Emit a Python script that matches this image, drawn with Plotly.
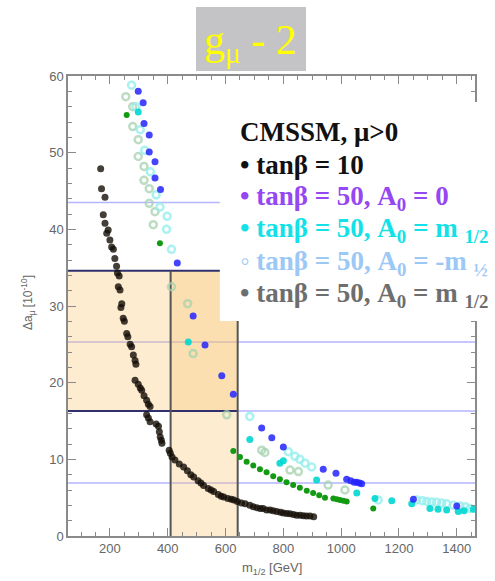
import plotly.graph_objects as go

# ---------------- data ----------------
tb10_x = [168,171,183,177,183,189,194,200,206,212,217,223,226,232,229,235,241,238,246,250,258,262,270,275,281,287,290,287,298,305,310,318,327,333,339,327,333,339,360,368,371,374,378,380,405,409,415,425,440,455,468,480,490,505,515,524,540,550,559,575,585,594,608,620,629,641,655,668,684,696,708,720,730,742,754,765,777,790,800,812,823,835,846,858,869,880,892,905]
tb10_y = [47.9,45.3,44.2,41.9,40.8,39.5,39.9,38.6,37.7,37.4,36.2,35.2,34.3,33.9,32.5,32.1,30.3,29.8,28.4,28.0,26.4,26.0,25.0,24.7,23.6,22.9,22.4,20.3,19.8,19.3,19.0,18.3,17.7,17.2,16.9,15.8,15.4,14.9,14.6,14.3,13.6,12.9,12.5,12.1,11.2,10.8,10.3,9.9,9.4,9.0,8.5,8.0,7.7,7.2,6.9,6.6,6.2,6.0,5.8,5.4,5.2,5.1,4.9,4.8,4.7,4.5,4.3,4.2,4.0,3.8,3.7,3.6,3.6,3.4,3.4,3.3,3.2,3.1,3.0,2.95,2.9,2.8,2.7,2.7,2.65,2.6,2.6,2.5]

a00_x = [298,315,318,336,336,356,356,375,433,488,529,587,627,725,760,800,938,982,1019,1033,1045,1054,1063,1071,1250,1400]
a00_y = [58.0,56.5,53.8,52.3,50.1,48.8,46.7,45.2,35.6,28.7,24.9,20.9,18.5,14.1,12.8,11.6,8.7,8.2,7.4,7.2,7.0,7.0,6.9,6.8,4.8,3.9]

am_x = [298,471,684,788,800,915,1054,1117,1175,1244,1307,1335,1365,1405,1425,1457]
am_y = [55.3,25.3,12.6,9.5,9.8,7.3,5.6,4.9,4.6,4.2,3.6,3.5,3.4,3.2,3.3,3.5]

aneg_x = [275,290,305,320,340,360,373,398,396,413,684,817,840,857,875,898,1128,1261,1280,1296,1313,1330,1348,1365,1388,1411,1430,1446]
aneg_y = [58.8,56.0,53.0,50.3,47.5,44.5,42.9,41.7,40.0,37.4,15.6,11.0,10.4,10.0,9.5,9.0,4.7,4.7,4.6,4.5,4.45,4.4,4.3,4.2,4.0,3.9,3.8,3.6]

grn_x = [258,373,627,650,673,696,719,742,765,788,811,834,857,881,903,924,944,973,985,996,1008,1019,1111]
grn_y = [54.9,38.2,11.1,10.3,9.7,9.2,8.7,8.3,7.8,7.4,7.0,6.65,6.3,5.9,5.6,5.3,5.0,4.9,4.8,4.7,4.6,4.5,3.6]

pg_x = [255,279,279,298,298,318,318,336,336,356,350,413,469,488,604,725,736,823,852,955,1013]
pg_y = [57.3,56.0,53.4,51.7,49.5,48.2,46.4,45.3,43.4,42.3,40.6,32.5,30.3,23.8,15.8,11.2,10.9,8.6,8.4,6.65,6.0]

x_ticks = [200, 400, 600, 800, 1000, 1200, 1400]
y_ticks = [0, 10, 20, 30, 40, 50, 60]

# bands / limits
band_y = [16.3, 34.6]
band_x = [410, 642]
light_lines = [43.5, 25.3, 16.3, 6.9]
XMIN, XMAX = 55, 1463

legend_lines = [
    ("CMSSM, μ>0", "#111111"),
    ("• tanβ = 10", "#111111"),
    ("• tanβ = 50, A<sub>0</sub> = 0", "#9447f2"),
    ("• tanβ = 50, A<sub>0</sub> = m <sub>1/2</sub>", "#12e2e8"),
    ("◦ tanβ = 50, A<sub>0</sub> = -m <sub>½</sub>", "#9cc8f6"),
    ("• tanβ = 50, A<sub>0</sub> = m <sub>1/2</sub>", "#6e6e6e"),
]

fig = go.Figure()

fig.add_trace(go.Scatter(x=pg_x, y=pg_y, mode="markers",
    marker=dict(symbol="circle-open", size=7, line=dict(width=2.5), color="rgba(165,210,175,0.75)")))
fig.add_trace(go.Scatter(x=aneg_x, y=aneg_y, mode="markers",
    marker=dict(symbol="circle-open", size=7, line=dict(width=2.5), color="rgba(150,238,238,0.8)")))
fig.add_trace(go.Scatter(x=grn_x, y=grn_y, mode="markers",
    marker=dict(size=6, color="#139a13")))
fig.add_trace(go.Scatter(x=am_x, y=am_y, mode="markers",
    marker=dict(size=7, color="rgba(0,215,210,0.9)")))
fig.add_trace(go.Scatter(x=a00_x, y=a00_y, mode="markers",
    marker=dict(size=7, color="rgba(35,35,255,0.85)")))
fig.add_trace(go.Scatter(x=tb10_x, y=tb10_y, mode="markers",
    marker=dict(size=7, color="rgba(20,14,6,0.8)")))

shapes = []
orange = "rgba(250,195,110,0.32)"
shapes.append(dict(type="rect", xref="x", yref="y", x0=XMIN, x1=band_x[1], y0=band_y[0], y1=band_y[1],
                   fillcolor=orange, line=dict(width=0), layer="below"))
shapes.append(dict(type="rect", xref="x", yref="y", x0=band_x[0], x1=band_x[1], y0=0, y1=band_y[1],
                   fillcolor=orange, line=dict(width=0), layer="below"))
for yv in light_lines:
    shapes.append(dict(type="line", xref="paper", yref="y", x0=0, x1=1, y0=yv, y1=yv,
                       line=dict(color="rgba(150,150,255,0.7)", width=1.5), layer="below"))
for yv in band_y:
    shapes.append(dict(type="line", xref="x", yref="y", x0=XMIN, x1=band_x[1], y0=yv, y1=yv,
                       line=dict(color="#30306e", width=2), layer="below"))
for xv in band_x:
    shapes.append(dict(type="line", xref="x", yref="y", x0=xv, x1=xv, y0=0, y1=band_y[1],
                       line=dict(color="#555555", width=2), layer="below"))
# legend panel
shapes.append(dict(type="rect", xref="paper", yref="paper", x0=0.373, x1=1.06, y0=0.4674, y1=0.9435,
                   fillcolor="white", line=dict(width=0), layer="above"))
# title box
shapes.append(dict(type="rect", xref="paper", yref="paper", x0=0.3145, x1=0.5848, y0=1.0109, y1=1.15,
                   fillcolor="#c4c3c6", line=dict(width=0), layer="above"))

annotations = []
annotations.append(dict(xref="paper", yref="paper", x=0.4496, y=1.072, xanchor="center", yanchor="middle",
                        text="g<sub>μ</sub> - 2", showarrow=False,
                        font=dict(family="Liberation Serif", size=42, color="#ffff00")))
legend_y_px = [132, 165, 198, 230, 263, 295]
for (txt, col), py in zip(legend_lines, legend_y_px):
    annotations.append(dict(xref="paper", yref="paper", x=(238 - 68) / 407, y=(536 - py) / 460,
                            xanchor="left", yanchor="middle", text="<b>" + txt + "</b>", showarrow=False,
                            font=dict(family="Liberation Serif", size=27, color=col)))
annotations.append(dict(xref="paper", yref="paper", x=(28 - 68) / 407, y=0.5065, xanchor="center",
                        yanchor="middle", textangle=-90, showarrow=False,
                        text="Δa<sub>μ</sub> [10<sup>-10</sup>]",
                        font=dict(family="Liberation Sans", size=12, color="#666666")))
annotations.append(dict(xref="paper", yref="paper", x=0.501, y=-0.0696, xanchor="center",
                        yanchor="middle", showarrow=False, text="m<sub>1/2</sub> [GeV]",
                        font=dict(family="Liberation Sans", size=13, color="#666666")))

axis_common = dict(showgrid=False, zeroline=False, showline=True, linecolor="#8a8a8a", linewidth=1.5,
                   mirror="allticks", ticks="inside", tickcolor="#8a8a8a", ticklen=8,
                   tickfont=dict(family="Liberation Sans", size=13, color="#666666"))

fig.update_layout(
    width=495, height=581,
    margin=dict(l=68, r=20, t=76, b=45),
    paper_bgcolor="white", plot_bgcolor="white",
    showlegend=False,
    shapes=shapes, annotations=annotations,
    xaxis=dict(range=[XMIN, XMAX], tickvals=x_ticks,
               minor=dict(ticks="inside", dtick=50, tick0=0, ticklen=4, tickcolor="#8a8a8a"),
               **axis_common),
    yaxis=dict(range=[0, 60], tickvals=y_ticks,
               minor=dict(ticks="inside", dtick=2, tick0=0, ticklen=4, tickcolor="#8a8a8a"),
               **axis_common),
)

fig.write_html("out.html")
